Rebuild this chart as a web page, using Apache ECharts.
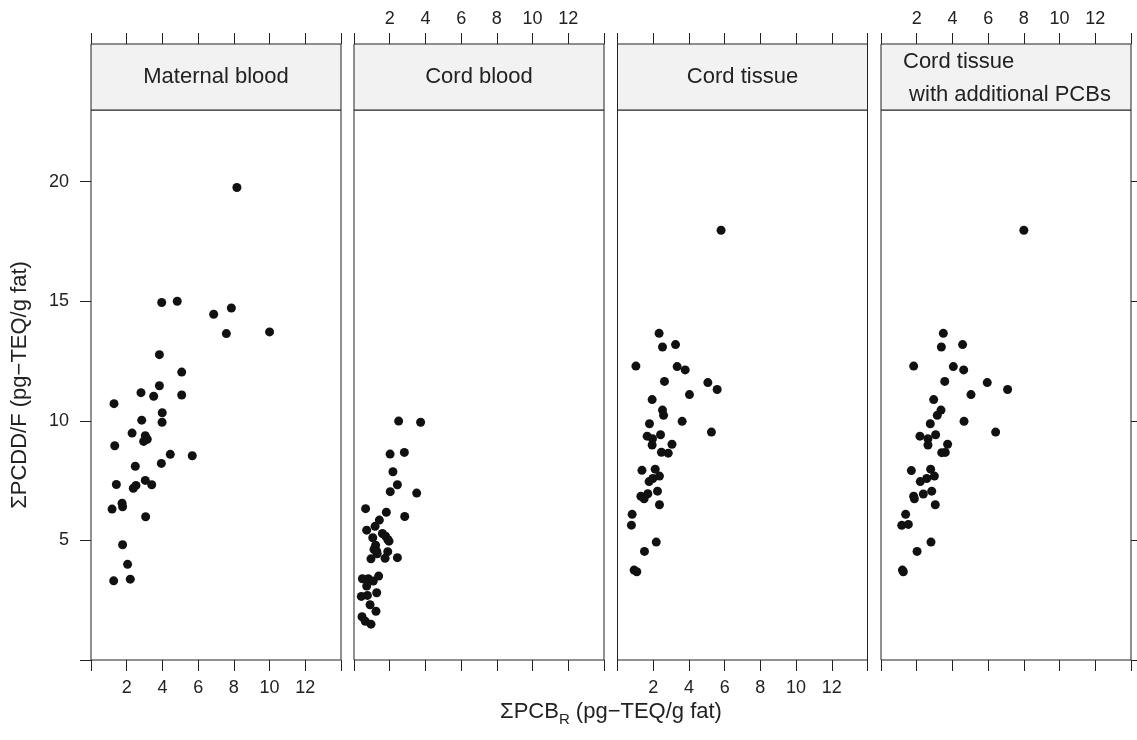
<!DOCTYPE html>
<html>
<head>
<meta charset="utf-8">
<script src="https://cdn.jsdelivr.net/npm/echarts@6/dist/echarts.min.js"></script>
<style>
  html, body { margin: 0; padding: 0; background: #fff; }
  #chart { width: 1137px; height: 740px; }
</style>
</head>
<body>
<div id="chart"></div>
<script>
// panel names (strip text)
var panelNames = ['Maternal blood', 'Cord blood', 'Cord tissue', 'Cord tissue\n with additional PCBs'];

// tick values
var xTicks = [0, 2, 4, 6, 8, 10, 12, 14];
var xLabels = [2, 4, 6, 8, 10, 12];
var yTicks = [0, 5, 10, 15, 20];
var yLabels = [5, 10, 15, 20];

// [ΣPCB_R, ΣPCDD/F]
var maternalBlood = [
  [1.29,10.72],[1.33,8.96],[1.42,7.34],[1.18,6.31],[1.74,6.56],[1.77,6.41],[1.77,4.82],[2.05,4.00],
  [1.27,3.31],[2.20,3.38],[2.30,9.49],[2.48,8.10],[2.52,7.30],[2.37,7.18],[2.80,11.18],[2.84,10.03],
  [2.95,9.14],[3.04,9.38],[3.15,9.23],[3.04,7.51],[3.06,5.99],[3.40,7.33],[3.51,11.03],[3.83,11.47],
  [3.94,8.22],[3.99,10.34],[3.98,9.94],[3.83,12.77],[3.96,14.95],[4.44,8.60],[4.83,15.00],[5.08,12.04],
  [5.08,11.08],[5.67,8.54],[6.87,14.46],[7.58,13.65],[7.86,14.72],[8.17,19.76],[10.0,13.72]
];
var cordBlood = [
  [2.50,9.99],[3.73,9.94],[2.02,8.61],[2.82,8.68],[2.18,7.87],[2.43,7.33],[2.03,7.04],[3.51,6.98],
  [0.65,6.33],[1.81,6.18],[2.84,6.00],[1.42,5.85],[1.18,5.59],[0.71,5.43],[1.59,5.29],[1.05,5.11],
  [1.77,5.18],[1.96,4.97],[1.21,4.80],[1.27,4.55],[1.89,4.53],[1.30,4.44],[0.95,4.23],[1.74,4.25],
  [2.43,4.28],[0.47,3.40],[0.80,3.40],[1.08,3.30],[1.38,3.51],[0.71,3.09],[0.41,2.66],[0.75,2.70],
  [1.27,2.81],[0.90,2.31],[1.23,2.04],[0.45,1.81],[0.63,1.62],[0.95,1.50],[1.89,5.04],[1.12,4.62]
];
var cordTissue = [
  [2.33,13.66],[2.52,13.09],[3.25,13.19],[1.03,12.29],[3.34,12.27],[3.79,12.13],[2.63,11.65],[5.06,11.60],
  [5.58,11.31],[4.03,11.10],[1.94,10.89],[2.52,10.45],[2.58,10.23],[3.62,9.98],[1.79,9.88],[5.26,9.53],
  [2.41,9.42],[1.66,9.36],[1.96,9.25],[3.05,9.02],[1.94,8.99],[2.46,8.69],[2.84,8.65],[1.37,7.93],
  [2.11,7.98],[2.35,7.69],[1.98,7.59],[1.77,7.46],[1.31,6.85],[1.49,6.74],[1.70,6.95],[2.24,7.06],
  [2.35,6.49],[0.82,6.09],[0.78,5.64],[2.17,4.93],[1.51,4.54],[0.93,3.76],[1.08,3.69],[5.80,17.97]
];
var cordTissueAdd = [
  [3.49,13.66],[3.38,13.09],[4.57,13.19],[1.83,12.29],[4.05,12.27],[4.63,12.13],[3.57,11.65],[5.95,11.60],
  [7.09,11.31],[5.04,11.10],[2.95,10.89],[3.36,10.45],[3.15,10.23],[4.65,9.98],[2.76,9.88],[6.42,9.53],
  [3.06,9.42],[2.18,9.36],[2.63,9.25],[3.73,9.02],[2.63,8.99],[3.40,8.67],[3.60,8.68],[1.70,7.92],
  [2.78,7.98],[2.99,7.69],[2.56,7.59],[2.20,7.46],[1.83,6.85],[1.87,6.74],[2.37,6.94],[2.84,7.06],
  [3.04,6.49],[1.38,6.09],[1.16,5.63],[1.53,5.67],[2.80,4.93],[2.02,4.54],[1.20,3.76],[1.25,3.69],[8.00,17.97]
];

var panelData = [maternalBlood, cordBlood, cordTissue, cordTissueAdd];

var FONT = '"Liberation Sans", Arial, Helvetica, sans-serif';
var INK = '#222';
var panelLeft = [91, 354, 617.5, 881];
var panelW = 250;

var grids = [], xAxes = [], yAxes = [], series = [], graphics = [];

function xAxisCfg(grid, pos, showLabel, margin) {
  return {
    type: 'value', gridIndex: grid, position: pos, min: 0, max: 14,
    axisLine: { show: false, onZero: false },
    splitLine: { show: false },
    axisTick: { show: true, inside: false, length: 11, customValues: xTicks, lineStyle: { color: INK, width: 1 } },
    axisLabel: { show: showLabel, customValues: xLabels, margin: margin, color: INK, fontSize: 18, fontFamily: FONT }
  };
}

for (var i = 0; i < 4; i++) {
  // main panel
  grids.push({ left: panelLeft[i], width: panelW, top: 110, height: 550, show: true,
    backgroundColor: '#fff', borderColor: INK, borderWidth: 1 });
}
for (var i = 0; i < 4; i++) {
  // strip
  grids.push({ left: panelLeft[i], width: panelW, top: 44, height: 66, show: true,
    backgroundColor: '#f2f2f2', borderColor: INK, borderWidth: 1 });
}

for (var i = 0; i < 4; i++) {
  xAxes.push(xAxisCfg(i, 'bottom', i % 2 === 0, 19));
}
for (var i = 0; i < 4; i++) {
  xAxes.push(xAxisCfg(4 + i, 'top', i % 2 === 1, 16));
}

for (var i = 0; i < 4; i++) {
  yAxes.push({
    type: 'value', gridIndex: i, position: 'left', min: 0, max: 23,
    axisLine: { show: false, onZero: false }, splitLine: { show: false },
    axisTick: { show: i === 0, length: 11, customValues: yTicks, lineStyle: { color: INK } },
    axisLabel: { show: i === 0, customValues: yLabels, margin: 22, color: INK, fontSize: 18, fontFamily: FONT }
  });
}
for (var i = 0; i < 4; i++) {
  yAxes.push({
    type: 'value', gridIndex: i, position: 'right', min: 0, max: 23,
    axisLine: { show: false, onZero: false }, splitLine: { show: false },
    axisTick: { show: i === 3, length: 11, customValues: yTicks, lineStyle: { color: INK } },
    axisLabel: { show: false }
  });
}
for (var i = 0; i < 4; i++) {
  yAxes.push({ type: 'value', gridIndex: 4 + i, min: 0, max: 1, show: false });
}

for (var i = 0; i < 4; i++) {
  series.push({
    type: 'scatter', xAxisIndex: i, yAxisIndex: i,
    data: panelData[i], symbol: 'circle', symbolSize: 9,
    itemStyle: { color: '#111', opacity: 1 }, silent: true
  });
}

// strip labels
for (var i = 0; i < 3; i++) {
  graphics.push({
    type: 'text', x: panelLeft[i] + panelW / 2, y: 77, z: 100,
    style: { text: panelNames[i], textAlign: 'center', textVerticalAlign: 'middle',
      font: '22px ' + FONT, fill: INK }
  });
}
graphics.push({
  type: 'text', x: panelLeft[3] + 22, y: 78, z: 100,
  style: { text: panelNames[3], textAlign: 'left', textVerticalAlign: 'middle',
    font: '22px ' + FONT, fill: INK, lineHeight: 33 }
});

// axis titles
graphics.push({
  type: 'text', x: 20, y: 385, rotation: Math.PI / 2, z: 100,
  style: { text: 'ΣPCDD/F (pg−TEQ/g fat)', textAlign: 'center', textVerticalAlign: 'middle',
    font: '22px ' + FONT, fill: INK }
});
graphics.push({
  type: 'text', x: 611, y: 712, z: 100,
  style: {
    text: '{a|ΣPCB}{s|R}{a| (pg−TEQ/g fat)}', textAlign: 'center', textVerticalAlign: 'middle',
    fill: INK,
    rich: {
      a: { fontSize: 22, fontFamily: FONT, color: INK, lineHeight: 30, verticalAlign: 'middle' },
      s: { fontSize: 15, fontFamily: FONT, color: INK, lineHeight: 30, verticalAlign: 'bottom' }
    }
  }
});

var chart = echarts.init(document.getElementById('chart'), null, { renderer: 'canvas' });
chart.setOption({
  animation: false,
  backgroundColor: '#fff',
  grid: grids,
  xAxis: xAxes,
  yAxis: yAxes,
  series: series,
  graphic: graphics
});
</script>
</body>
</html>
